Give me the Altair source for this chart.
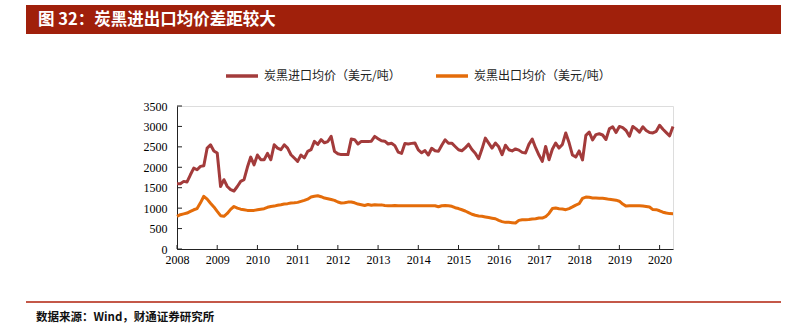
import altair as alt
import pandas as pd

start_year = 2008

# 炭黑进口均价（美元/吨）, monthly from 2008-01
import_price = [
    1598, 1598, 1655, 1640, 1817, 1980, 1940, 2022, 2039, 2470, 2552, 2400,
    2350, 1530, 1696, 1530, 1452, 1420, 1530, 1655, 1696, 2000, 2250, 2060,
    2300, 2185, 2185, 2340, 2185, 2552, 2470, 2430, 2552, 2470, 2308, 2226,
    2145, 2300, 2230, 2390, 2430, 2634, 2560, 2675, 2600, 2630, 2757, 2390,
    2330, 2310, 2310, 2310, 2690, 2675, 2569, 2634, 2634, 2634, 2640, 2757,
    2700, 2650, 2640, 2570, 2590, 2530, 2370, 2340, 2580, 2570, 2585, 2595,
    2425, 2355, 2410, 2300, 2465, 2405, 2390, 2540, 2675, 2590, 2590, 2510,
    2430, 2405, 2475, 2565, 2435, 2345, 2210, 2446, 2715, 2590, 2470, 2593,
    2500, 2308, 2540, 2430, 2400, 2450, 2420, 2365, 2349, 2560, 2690, 2480,
    2300, 2145, 2511, 2185, 2440, 2593, 2470, 2560, 2838, 2600, 2300, 2250,
    2400, 2180, 2780, 2860, 2670, 2800, 2820, 2790, 2680, 2940, 2990, 2850,
    3000, 2970, 2900, 2760, 3000, 2940, 2860, 2990, 2900, 2850, 2840, 2880,
    3030, 2930, 2850, 2770, 3000,
]

# 炭黑出口均价（美元/吨）
export_price = [
    800, 840, 860, 880, 920, 960, 990, 1130, 1290, 1220, 1120, 1030,
    920, 815, 800, 870, 970, 1040, 1000, 975, 960, 945, 945, 945,
    960, 975, 986, 1020, 1040, 1050, 1070, 1084, 1100, 1110, 1125, 1130,
    1141, 1166, 1190, 1220, 1272, 1290, 1304, 1280, 1247, 1230, 1210, 1190,
    1150, 1125, 1130, 1148, 1150, 1130, 1100, 1083, 1066, 1090, 1070, 1084,
    1075, 1080, 1066, 1060, 1060, 1065, 1060, 1060, 1060, 1060, 1060, 1060,
    1060, 1060, 1060, 1060, 1060, 1060, 1035, 1060, 1062, 1060, 1045, 1010,
    990, 960, 930, 890, 850, 825, 810, 800, 785, 770, 755, 740,
    700, 670, 652, 652, 645, 636, 700, 717, 717, 720, 734, 740,
    758, 758, 790, 870, 990, 1003, 986, 978, 962, 990, 1030, 1075,
    1108, 1240, 1272, 1265, 1250, 1247, 1245, 1240, 1230, 1215, 1207, 1195,
    1170, 1100, 1050, 1060, 1060, 1060, 1060, 1050, 1040, 1027, 965, 962,
    935, 900, 880, 866, 864,
]

year_ticks = list(range(2008, 2021))
value_ticks = [0, 500, 1000, 1500, 2000, 2500, 3000, 3500]
series_names = ["炭黑进口均价（美元/吨）", "炭黑出口均价（美元/吨）"]
series_colors = ["#A33B3B", "#E46C0A"]
title_text = "图 32：炭黑进出口均价差距较大"
source_text = "数据来源：Wind，财通证券研究所"

n = len(import_price)
t = [start_year + i / 12 for i in range(n)]
df = pd.DataFrame({
    "t": t + t,
    "value": import_price + export_price,
    "series": [series_names[0]] * n + [series_names[1]] * n,
})
t_end = start_year + (n - 1) / 12

W, H = 496, 143
CJK = "Noto Sans CJK SC"
SERIF = "Liberation Serif"

xscale = alt.Scale(domain=[start_year, t_end], nice=False, zero=False)
yscale = alt.Scale(domain=[0, 3500], nice=False)

xaxis = alt.Axis(values=year_ticks, format="d", title=None, ticks=False,
                 grid=False, labelFont=SERIF, labelFontSize=12,
                 labelColor="#000", labelPadding=5, labelFlush=False,
                 labelOverlap=False, domainColor="#222", domainWidth=1)
yaxis = alt.Axis(values=value_ticks, format="d", title=None, ticks=False,
                 grid=False, labelFont=SERIF, labelFontSize=12,
                 labelColor="#000", labelPadding=10, labelOverlap=False,
                 labelFlush=False, domainColor="#222", domainWidth=1)

lines = alt.Chart(df).mark_line(strokeWidth=3, strokeJoin="round").encode(
    x=alt.X("t:Q", scale=xscale, axis=xaxis),
    y=alt.Y("value:Q", scale=yscale, axis=yaxis),
    color=alt.Color("series:N",
                    scale=alt.Scale(domain=series_names, range=series_colors),
                    legend=alt.Legend(orient="none", legendX=47, legendY=-48,
                                      direction="horizontal", title=None,
                                      symbolType="stroke", symbolSize=1024,
                                      symbolStrokeWidth=3.5, labelFont=CJK,
                                      labelFontSize=12, labelColor="#222",
                                      columnPadding=28, labelOffset=4, padding=0)),
    order=alt.Order("t:Q"),
)

xt = alt.Chart(pd.DataFrame({"year": year_ticks})).mark_rule(color="#222", strokeWidth=1).encode(
    x=alt.X("year:Q", scale=xscale, axis=xaxis), y=alt.value(H), y2=alt.value(H - 4))
yt = alt.Chart(pd.DataFrame({"value": value_ticks})).mark_rule(color="#222", strokeWidth=1).encode(
    y=alt.Y("value:Q", scale=yscale, axis=yaxis), x=alt.value(0), x2=alt.value(5))

one = pd.DataFrame({"k": [0]})
bar = alt.Chart(one).mark_rect(color="#A0200B").encode(
    x=alt.value(-151), x2=alt.value(604), y=alt.value(-101), y2=alt.value(-72))
title = alt.Chart(one).mark_text(align="left", baseline="middle", color="white",
                                 font=CJK, fontSize=16.5, fontWeight="bold").encode(
    x=alt.value(-139), y=alt.value(-86.5), text=alt.value(title_text))
foot_line = alt.Chart(one).mark_rule(color="#B0200B", strokeWidth=1.5).encode(
    x=alt.value(-151), x2=alt.value(604), y=alt.value(196))
foot = alt.Chart(one).mark_text(align="left", baseline="middle", color="#111",
                                font=CJK, fontSize=11.5, fontWeight="bold").encode(
    x=alt.value(-141), y=alt.value(212), text=alt.value(source_text))

chart = alt.layer(bar, title, foot_line, foot, xt, yt, lines).properties(
    width=W, height=H,
    padding={"left": 25, "top": 5, "right": 5, "bottom": 5},
).configure_view(stroke=None).configure(background="white")

chart.save("out.html", embed_options={"renderer": "svg", "actions": False})
